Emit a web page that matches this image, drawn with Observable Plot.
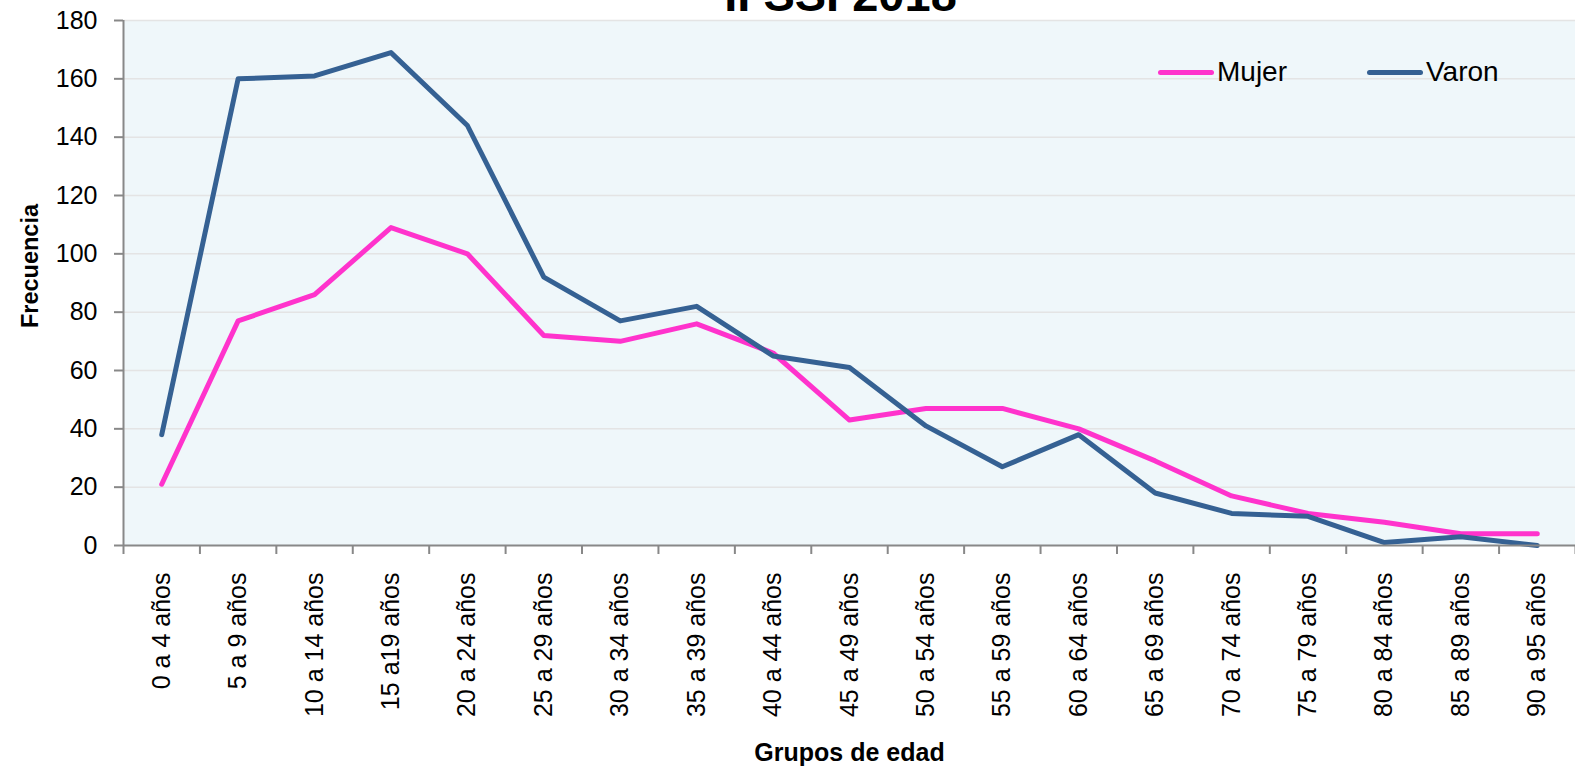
<!DOCTYPE html>
<html>
<head>
<meta charset="utf-8">
<script src="https://cdn.jsdelivr.net/npm/d3@7"></script>
<script src="https://cdn.jsdelivr.net/npm/@observablehq/plot@0.6"></script>
<style>
  html, body { margin: 0; padding: 0; background: #ffffff; }
  #wrap { position: relative; width: 1575px; height: 779px; overflow: hidden; font-family: "Liberation Sans", Arial, sans-serif; }
  #legend { position: absolute; top: 56px; left: 1158px; display: flex; align-items: center; font-size: 28px; color: #000; }
  .item { display: flex; align-items: center; }
  .swatch { width: 56px; height: 5px; border-radius: 3px; margin-right: 3px; }
</style>
</head>
<body>
<div id="wrap"><div id="chart"></div>
  <div id="legend"></div>
</div>
<script>
const categories = ["0 a 4 años","5 a 9 años","10 a 14 años","15 a19 años","20 a 24 años","25 a 29 años","30 a 34 años","35 a 39 años","40 a 44 años","45 a 49 años","50 a 54 años","55 a 59 años","60 a 64 años","65 a 69 años","70 a 74 años","75 a 79 años","80 a 84 años","85 a 89 años","90 a 95 años"];
const mujer = [21, 77, 86, 109, 100, 72, 70, 76, 66, 43, 47, 47, 40, 29, 17, 11, 8, 4, 4];
const varon = [38, 160, 161, 169, 144, 92, 77, 82, 65, 61, 41, 27, 38, 18, 11, 10, 1, 3, 0];
const series = ["Mujer", "Varon"];
const colors = ["#ff33cc", "#356193"];
const yTicks = [0, 20, 40, 60, 80, 100, 120, 140, 160, 180];
const title = "II SSI 2018";

const data = [];
categories.forEach((c, i) => {
  data.push({i, cat: c, sexo: "Mujer", value: mujer[i]});
  data.push({i, cat: c, sexo: "Varon", value: varon[i]});
});
const idx = d3.range(categories.length);
const bounds = d3.range(categories.length + 1).map(i => i - 0.5);

const font = "Liberation Sans, Arial, sans-serif";

const chart = Plot.plot({
  width: 1575,
  height: 779,
  marginLeft: 123,
  marginRight: 0,
  marginTop: 20,
  marginBottom: 234,
  style: {fontFamily: font, fontSize: "25px", background: "#ffffff", color: "#000"},
  x: {type: "linear", domain: [-0.5, categories.length - 0.5], axis: null, label: null},
  y: {domain: [0, 180], axis: null, label: null},
  color: {domain: series, range: colors},
  marks: [
    Plot.frame({fill: "#eff7fa", stroke: null}),
    Plot.gridY(yTicks.filter(d => d > 0), {stroke: "#e4e4e4", strokeOpacity: 1, strokeWidth: 1.5}),
    Plot.lineY(data, {x: "i", y: "value", z: "sexo", stroke: "sexo", strokeWidth: 5, strokeLinecap: "round", strokeLinejoin: "round"}),
    Plot.axisY({ticks: yTicks, tickSize: 9, tickPadding: 17, stroke: "#888", strokeWidth: 2, fontSize: 25, label: null, tickFormat: d => d}),
    Plot.ruleX([-0.5], {stroke: "#888", strokeWidth: 2}),
    Plot.ruleY([0], {stroke: "#888", strokeWidth: 2}),
    Plot.axisX({ticks: bounds, tickSize: 9, label: null, tickFormat: () => "", stroke: "#888", strokeWidth: 2}),
    Plot.axisX({ticks: idx, tickSize: 0, tickPadding: 27, tickRotate: -90, fontSize: 25, label: null, tickFormat: i => categories[i]}),
    Plot.text([title], {frameAnchor: "top", dx: -9, dy: -10, lineAnchor: "bottom", textAnchor: "middle", fontSize: 47, fontWeight: "bold"}),
    Plot.text(["Frecuencia"], {frameAnchor: "left", dx: -93, dy: -17, rotate: -90, textAnchor: "middle", lineAnchor: "middle", fontSize: 23.5, fontWeight: "bold"}),
    Plot.text(["Grupos de edad"], {frameAnchor: "bottom", dy: 215, textAnchor: "middle", fontSize: 25, fontWeight: "bold"})
  ]
});
document.getElementById("chart").appendChild(chart);

const legend = document.getElementById("legend");
series.forEach((s, k) => {
  const item = document.createElement("div");
  item.className = "item";
  if (k > 0) item.style.marginLeft = "80px";
  const sw = document.createElement("span");
  sw.className = "swatch";
  sw.style.background = colors[k];
  const t = document.createElement("span");
  t.textContent = s;
  item.appendChild(sw); item.appendChild(t);
  legend.appendChild(item);
});
</script>
</body>
</html>
